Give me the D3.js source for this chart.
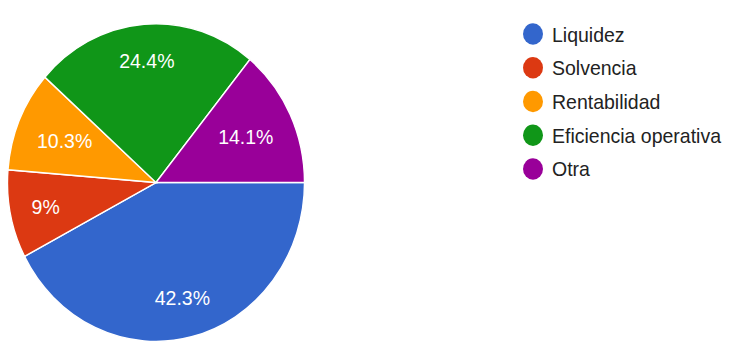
<!DOCTYPE html>
<html>
<head>
<meta charset="utf-8">
<script src="https://cdn.jsdelivr.net/npm/d3@7"></script>
<style>
html,body{margin:0;padding:0;background:#fff;}
svg{display:block;}
</style>
</head>
<body>
<script>
const categories = ["Liquidez", "Solvencia", "Rentabilidad", "Eficiencia operativa", "Otra"];
const counts = [33, 7, 8, 19, 11];
const colors = ["#3366cc", "#dc3912", "#ff9900", "#109618", "#990099"];

const W = 731, H = 347, sy = 1.07;
const VH = H / sy;
const svg = d3.select("body").append("svg")
  .attr("width", W).attr("height", H)
  .attr("viewBox", `0 0 ${W} ${VH}`)
  .attr("preserveAspectRatio", "none");

const cx = 156, cy = 170.6, r = 148.5;
const total = d3.sum(counts);
const pie = d3.pie().sort(null).startAngle(Math.PI / 2).endAngle(Math.PI / 2 + 2 * Math.PI);
const arcs = pie(counts);
const arc = d3.arc().innerRadius(0).outerRadius(r);

const g = svg.append("g").attr("transform", `translate(${cx},${cy})`);
g.selectAll("path").data(arcs).join("path")
  .attr("d", arc)
  .attr("fill", (d, i) => colors[i])
  .attr("stroke", "#fff")
  .attr("stroke-width", 1.4);

const fmt = v => {
  const s = (v / total * 100).toFixed(1);
  return (s.endsWith(".0") ? s.slice(0, -2) : s) + "%";
};
const R0 = r - 20, hh = 9.5;
g.selectAll("text").data(arcs).join("text")
  .attr("text-anchor", "middle")
  .attr("dy", "0.36em")
  .attr("font-family", "Liberation Sans, Arial, sans-serif")
  .attr("font-size", 19.5)
  .attr("fill", "#fff")
  .text(d => fmt(d.value))
  .attr("transform", function(d) {
    const a = (d.startAngle + d.endAngle) / 2;
    const s = Math.sin(a), c = -Math.cos(a);
    const hw = this.getComputedTextLength() / 2;
    const b = Math.abs(s) * hw + Math.abs(c) * hh;
    const k = hw * hw + hh * hh - R0 * R0;
    const t = -b + Math.sqrt(b * b - k);
    return `translate(${t * s},${t * c})`;
  });

const legY = d3.scalePoint().domain(categories).range([31.8, 157.9]);
const leg = svg.append("g");
const items = leg.selectAll("g").data(categories).join("g")
  .attr("transform", d => `translate(533,${legY(d)})`);
items.append("circle").attr("r", 10).attr("fill", (d, i) => colors[i]);
items.append("text")
  .attr("x", 19)
  .attr("dy", "0.36em")
  .attr("font-family", "Liberation Sans, Arial, sans-serif")
  .attr("font-size", 19.5)
  .attr("fill", "#222")
  .text(d => d);
</script>
</body>
</html>
